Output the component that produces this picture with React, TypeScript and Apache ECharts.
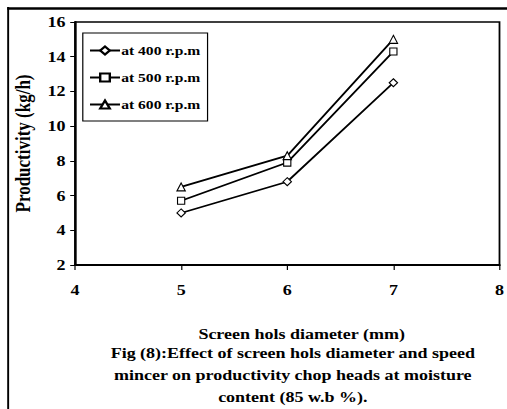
import React, { useEffect, useRef } from "react";
import * as echarts from "echarts";

const xValues = [5, 6, 7];
const rpm400 = [5.0, 6.8, 12.5];
const rpm500 = [5.7, 7.9, 14.3];
const rpm600 = [6.5, 8.3, 15.0];
const seriesNames = ["at 400 r.p.m", "at 500 r.p.m", "at 600 r.p.m"];
const symbols = ["diamond", "rect", "triangle"];
const captionLines = [
  "Fig (8):Effect of screen hols diameter and speed",
  "mincer on productivity chop heads at moisture",
  "content (85 w.b %).",
];

const FONT = "Liberation Serif";
const STRETCH = 1.2;
const PAGE_W = 507;
const PAGE_H = 409;

export default function App() {
  const ref = useRef<HTMLDivElement>(null);
  useEffect(() => {
    if (!ref.current) return;
    const chart = echarts.init(ref.current, null, { renderer: "svg" });
    const dataSets = [rpm400, rpm500, rpm600];
    chart.setOption({
      animation: false,
      backgroundColor: "#fff",
      textStyle: { fontFamily: FONT },
      grid: {
        left: 62.5,
        top: 22,
        width: 359,
        height: 243,
        show: true,
        borderColor: "#000",
        borderWidth: 1.5,
        backgroundColor: "transparent",
      },
      legend: {
        orient: "vertical",
        left: 69,
        top: 33,
        padding: [11, 6, 10, 5],
        itemWidth: 25,
        itemHeight: 10,
        itemGap: 14,
        backgroundColor: "#fff",
        borderColor: "#000",
        borderWidth: 1,
        textStyle: { fontFamily: FONT, fontWeight: "bold", fontSize: 13, color: "#000", padding: [0, 0, 0, -4] },
        data: seriesNames,
      },
      xAxis: {
        type: "value",
        min: 4,
        max: 8,
        interval: 1,
        name: "Screen hols diameter (mm)",
        nameLocation: "middle",
        nameGap: 62,
        nameTextStyle: { fontFamily: FONT, fontWeight: "bold", fontSize: 15, color: "#000", padding: [0, 0, 0, 24] },
        axisLine: { show: true, lineStyle: { color: "#000", width: 2 } },
        axisTick: { show: true, inside: false, length: 5, lineStyle: { color: "#000", width: 1 } },
        axisLabel: { fontFamily: FONT, fontWeight: "bold", fontSize: 15, color: "#000", margin: 18 },
        splitLine: { show: false },
      },
      yAxis: {
        type: "value",
        min: 2,
        max: 16,
        interval: 2,
        name: "Productivity (kg/h)",
        nameLocation: "middle",
        nameGap: 35,
        nameTextStyle: { fontFamily: FONT, fontWeight: "bold", fontSize: 17, color: "#000" },
        axisLine: { show: true, lineStyle: { color: "#000", width: 1.8 } },
        axisTick: { show: true, inside: false, length: 4, lineStyle: { color: "#000", width: 1 } },
        axisLabel: { fontFamily: FONT, fontWeight: "bold", fontSize: 15, color: "#000", margin: 8 },
        splitLine: { show: false },
      },
      series: seriesNames.map((name, i) => ({
        name,
        type: "line",
        data: xValues.map((x, j) => [x, dataSets[i][j]]),
        symbol: symbols[i],
        symbolSize: i === 0 ? [7, 8] : i === 1 ? [6, 7] : [7, 8],
        showAllSymbol: true,
        lineStyle: { color: "#000", width: 1.7 },
        itemStyle: { color: "#fff", borderColor: "#000", borderWidth: 1 },
        emphasis: { disabled: true },
      })),
      graphic: [
        {
          type: "line",
          shape: { x1: 6, y1: 8.5, x2: PAGE_W, y2: 8.5 },
          style: { stroke: "#000", lineWidth: 2.5 },
          silent: true,
          z: 100,
        },
        {
          type: "line",
          shape: { x1: 6.8, y1: 7, x2: 6.8, y2: PAGE_H + 5 },
          style: { stroke: "#000", lineWidth: 1.6 },
          silent: true,
          z: 100,
        },
        ...captionLines.map((line, i) => ({
          type: "text",
          x: 244,
          y: 353 + i * 22,
          style: {
            text: line,
            fontFamily: FONT,
            fontWeight: "bold",
            fontSize: 15,
            fill: "#000",
            textAlign: "center",
            textVerticalAlign: "middle",
          },
        })),
      ],
    });
    return () => chart.dispose();
  }, []);
  return (
    <div
      style={{ position: "fixed", left: 0, top: 0, width: PAGE_W, height: PAGE_H, overflow: "hidden", background: "#fff" }}
    >
      <div
        ref={ref}
        style={{
          width: PAGE_W / STRETCH,
          height: PAGE_H,
          transform: `scaleX(${STRETCH})`,
          transformOrigin: "0 0",
        }}
      />
    </div>
  );
}
